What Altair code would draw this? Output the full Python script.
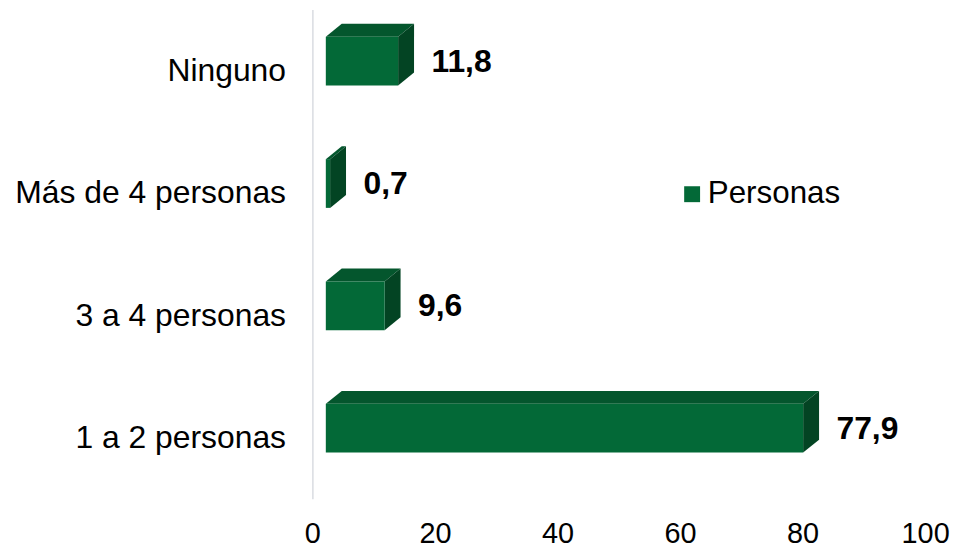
import altair as alt
import pandas as pd

# ---- data ----
categories = ["Ninguno", "Más de 4 personas", "3 a 4 personas", "1 a 2 personas"]
values = [11.8, 0.7, 9.6, 77.9]
x_ticks = [0, 20, 40, 60, 80, 100]
series_name = "Personas"

# ---- styling / geometry constants (pixels) ----
W, H = 616, 492
X_MAX = 100
N = len(categories)
XPX = W / X_MAX          # px per x unit
YPX = H / N              # px per y unit
FRONT_OFF = 13.5 / XPX   # front face shifted right of the axis
TOP_UP = 34 / YPX        # front top above band centre
BOT_DN = 15 / YPX        # front bottom below band centre
DEPTH_X = 16 / XPX
DEPTH_Y = 13 / YPX

FRONT = "#036937"
TOPC = "#04562D"
SIDE = "#034423"
FONT = "Liberation Sans"

pos = [N - i - 0.5 for i in range(N)]
df = pd.DataFrame({"categoria": categories, "value": values, "pos": pos, "serie": series_name})
df["x0"] = FRONT_OFF
df["x1"] = df["value"] + FRONT_OFF
df["ytop"] = df["pos"] + TOP_UP
df["ybot"] = df["pos"] - BOT_DN

side_rows = []
top_rows = []
for c, x0, x1, yb, yt in zip(df["categoria"], df["x0"], df["x1"], df["ybot"], df["ytop"]):
    side_rows.append({"categoria": c, "x": x1, "ylo": yb, "yhi": yt})
    side_rows.append({"categoria": c, "x": x1 + DEPTH_X, "ylo": yb + DEPTH_Y, "yhi": yt + DEPTH_Y})
    top_rows.append({"categoria": c, "y": yt, "xlo": x0, "xhi": x1})
    top_rows.append({"categoria": c, "y": yt + DEPTH_Y, "xlo": x0 + DEPTH_X, "xhi": x1 + DEPTH_X})
side_df = pd.DataFrame(side_rows)
top_df = pd.DataFrame(top_rows)

xscale = alt.Scale(domain=[0, X_MAX], nice=False, zero=True)
yscale = alt.Scale(domain=[0, N], nice=False, zero=True)

label_expr = " : ".join(
    f"datum.value == {p} ? '{c}'" for p, c in zip(pos, categories)
) + " : ''"

x_axis = alt.Axis(values=x_ticks, domain=False, ticks=False, tickSize=0, grid=False,
                  labelPadding=21, labelFontSize=29, labelFont=FONT, labelColor="#000000",
                  title=None, labelFlush=False)
y_axis = alt.Axis(values=pos, labelExpr=label_expr, domain=True, domainColor="#d9dce1",
                  domainWidth=1.5, ticks=False, tickSize=0, grid=False, labelPadding=27,
                  labelLimit=500, labelFontSize=32, labelFont=FONT, labelColor="#000000",
                  title=None)

top_face = alt.Chart(top_df).mark_area(orient="horizontal", color=TOPC, strokeWidth=0).encode(
    y=alt.Y("y:Q", scale=yscale, axis=y_axis),
    x=alt.X("xlo:Q", scale=xscale, axis=x_axis),
    x2="xhi:Q",
    detail="categoria:N",
)

side_face = alt.Chart(side_df).mark_area(orient="vertical", color=SIDE, strokeWidth=0).encode(
    x=alt.X("x:Q", scale=xscale),
    y=alt.Y("ylo:Q", scale=yscale),
    y2="yhi:Q",
    detail="categoria:N",
)

front = alt.Chart(df).mark_rect(strokeWidth=0).encode(
    x=alt.X("x0:Q", scale=xscale),
    x2="x1:Q",
    y=alt.Y("ybot:Q", scale=yscale),
    y2="ytop:Q",
    color=alt.Color("serie:N", scale=alt.Scale(range=[FRONT]),
                    legend=alt.Legend(orient="none", legendX=366, legendY=170, title=None,
                                      symbolType="square", symbolSize=256, symbolStrokeWidth=0,
                                      labelFontSize=31.5, labelFont=FONT, labelColor="#000000",
                                      labelOffset=0, padding=0)),
)

labels = alt.Chart(df).mark_text(align="left", baseline="middle", dx=47, dy=-9,
                                 fontSize=32, fontWeight="bold", font=FONT, color="#000000").encode(
    x=alt.X("value:Q", scale=xscale),
    y=alt.Y("pos:Q", scale=yscale),
    text=alt.Text("value:Q", format=".1f"),
)

chart = alt.layer(top_face, side_face, front, labels).properties(
    width=W, height=H,
    autosize=alt.AutoSizeParams(type="none"),
    padding={"left": 306, "top": 0, "right": 26, "bottom": 51},
).configure(
    background="white",
    view=alt.ViewConfig(stroke=None),
    locale={"number": {"decimal": ",", "thousands": ".", "grouping": [3], "currency": ["", "€"]}},
)

chart.save("out.html", embed_options={"renderer": "svg", "actions": False})
